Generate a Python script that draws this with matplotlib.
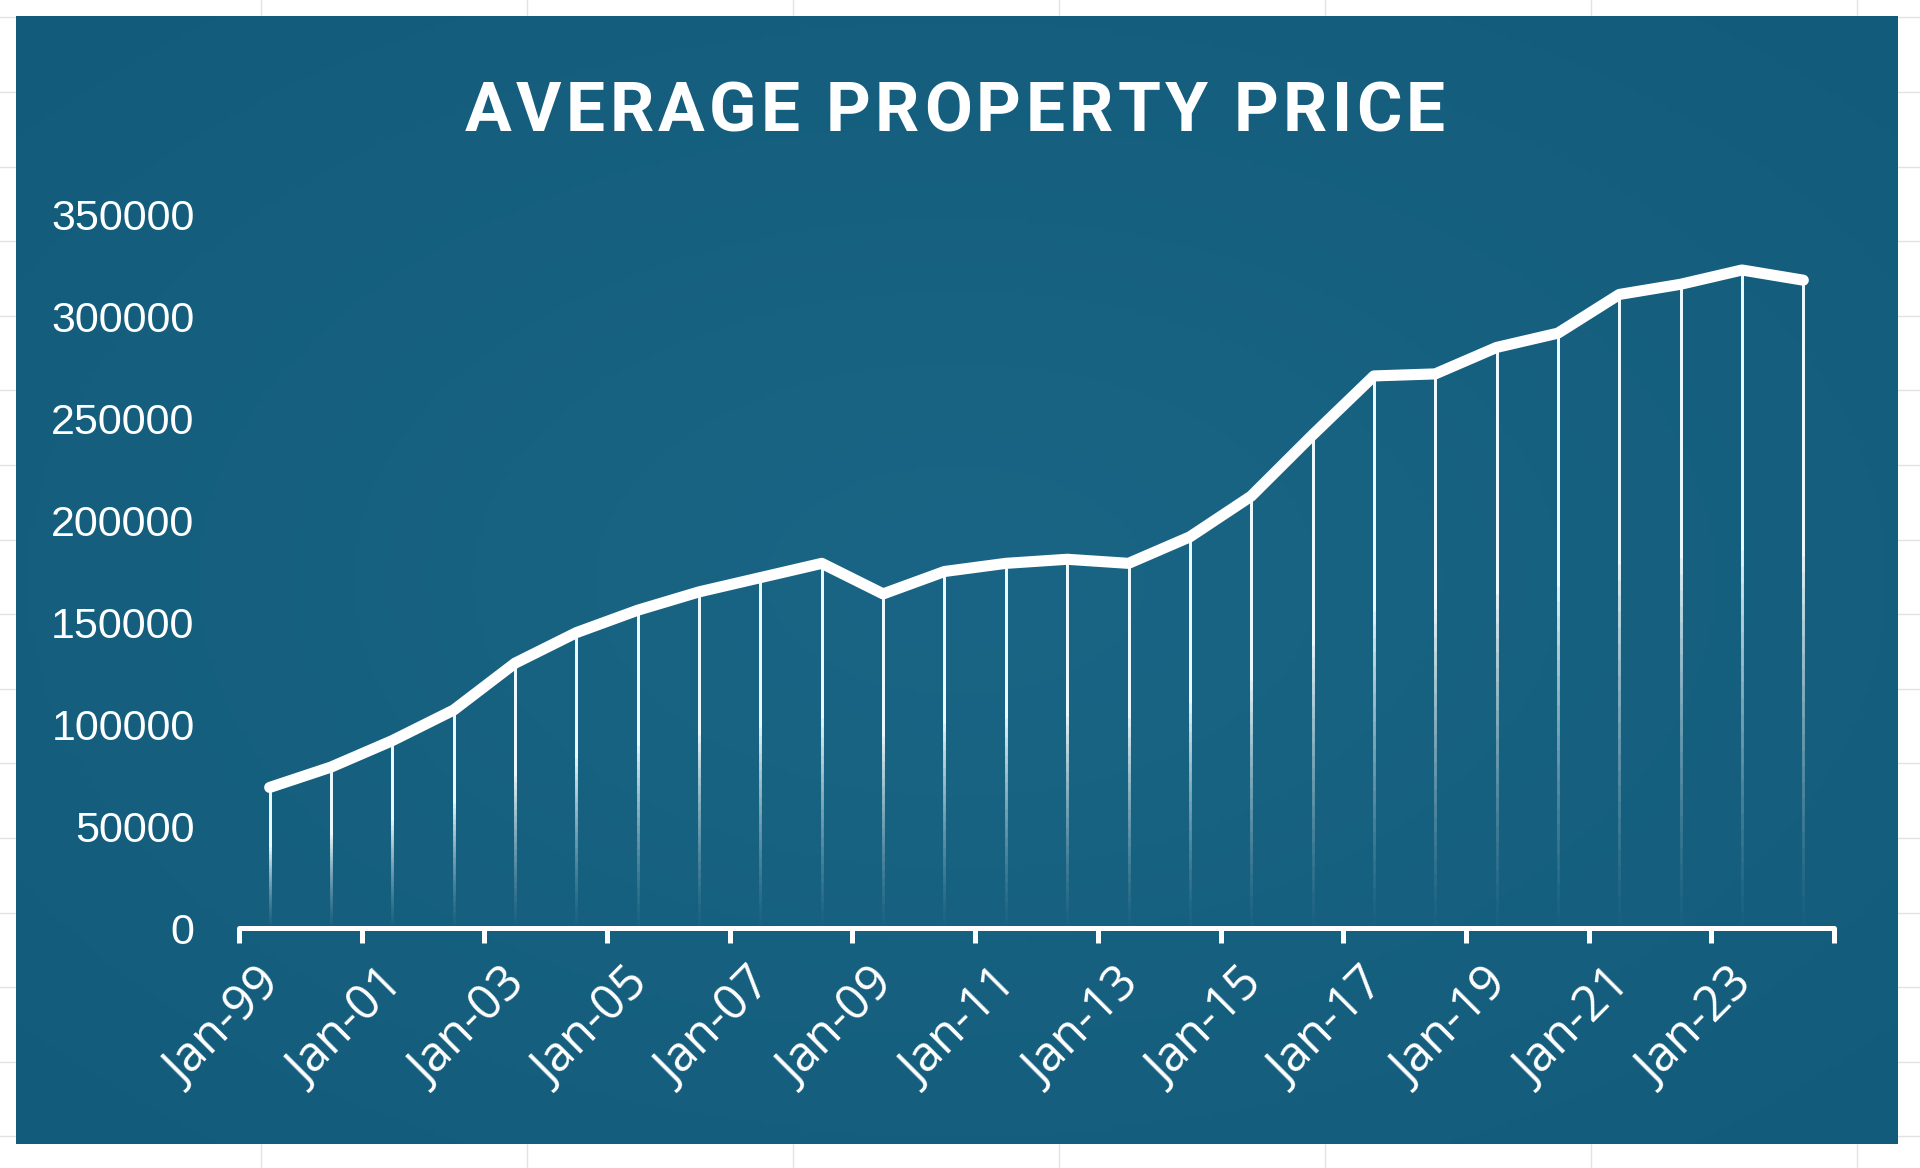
import numpy as np
import matplotlib
matplotlib.use("Agg")
import matplotlib.pyplot as plt
import matplotlib.transforms as mtransforms
from matplotlib.collections import LineCollection
from matplotlib.lines import Line2D

# data (one value per year, Jan-99 .. Jan-24)
years = list(range(1999, 2025))
prices = [69000, 79000, 92000, 107000, 130000, 145000, 156000, 165000, 172000, 179000,
          164000, 175000, 179000, 181000, 179000, 192000, 212000, 242000, 271000, 272000,
          285000, 292000, 311000, 316000, 323000, 318000]
tick_labels = ["Jan-%02d" % (y % 100) for y in years[::2]]
y_ticks = list(range(0, 350001, 50000))
title = "AVERAGE PROPERTY PRICE"

W, H = 1920, 1168
fig = plt.figure(figsize=(W / 100, H / 100), dpi=100, facecolor="white")

# faint spreadsheet grid behind the chart box
for gx in np.arange(261, W, 266):
    fig.add_artist(Line2D([gx / W] * 2, [0, 1], color="#e2e2e2", lw=1.0, zorder=0))
for gy in np.arange(17.4, H, 74.6):
    fig.add_artist(Line2D([0, 1], [1 - gy / H] * 2, color="#e2e2e2", lw=1.0, zorder=0))

# blue chart box with a soft vignette
bg = fig.add_axes([16 / W, 1 - 1144 / H, 1882 / W, 1128 / H], zorder=1)
gx, gy = np.meshgrid(np.linspace(-1, 1, 400), np.linspace(-1, 1, 250))
r = np.clip(np.sqrt(gx ** 2 + gy ** 2) / 1.414, 0, 1)
c_mid = np.array([26, 101, 133]) / 255
c_edge = np.array([19, 91, 122]) / 255
grad = c_mid[None, None, :] * (1 - r[..., None]) + c_edge[None, None, :] * r[..., None]
bg.imshow(grad, aspect="auto", extent=[0, 1, 0, 1])
bg.axis("off")

ax = fig.add_axes([239 / W, 1 - 928 / H, (1834 - 239) / W, (928 - 215) / H], zorder=2)
ax.patch.set_alpha(0)
x = np.arange(len(years))
ax.set_xlim(-0.5, len(years) - 0.5)
ax.set_ylim(0, 350000)

# drop lines fading toward the axis: stacked lines that all reach the point,
# each starting a bit higher, so the opacity builds up smoothly
n = 24
fr = np.linspace(0, 1, n + 1)
opac = fr ** 1.3
segs, cols = [], []
for k in range(n):
    a = (opac[k + 1] - opac[k]) / (1 - opac[k])
    for xi, p in zip(x, prices):
        segs.append([(xi, p * 0.6 * fr[k]), (xi, p)])
        cols.append((0.93, 0.98, 1.0, a))
ax.add_collection(LineCollection(segs, colors=cols, linewidths=2.0, capstyle="butt", zorder=3))

ax.plot(x, prices, color="white", lw=8, solid_capstyle="round",
        solid_joinstyle="round", zorder=4)

for s in ["top", "right", "left"]:
    ax.spines[s].set_visible(False)
ax.spines["bottom"].set_color("white")
ax.spines["bottom"].set_linewidth(3.6)
ax.spines["bottom"].set_capstyle("round")

ax.set_xticks(np.arange(-0.5, len(years), 2))
ax.set_xticklabels([])
ax.tick_params(axis="x", which="major", direction="out", length=11, width=3.6, color="white")
ax.set_xticks(x[::2], minor=True)
ax.set_xticklabels(tick_labels, minor=True, rotation=45, ha="right", va="top",
                   rotation_mode="anchor", fontsize=35, family="Open Sans", color="white")
ax.tick_params(axis="x", which="minor", length=0, pad=23)
shift = mtransforms.ScaledTranslation(-13 / 100, 0, fig.dpi_scale_trans)
for lab in ax.get_xticklabels(minor=True):
    lab.set_transform(lab.get_transform() + shift)

ax.set_yticks(y_ticks)
ax.set_yticklabels([str(v) for v in y_ticks], fontsize=31, family="Liberation Sans",
                   color="white")
ax.tick_params(axis="y", length=0, pad=32)

# title with letter spacing, placed glyph by glyph
t_size = 50
t_width = 980
t_base = 1 - 131 / H
renderer = fig.canvas.get_renderer()
prefix = []
for i in range(len(title) + 1):
    tmp = fig.text(0, 0, title[:i] + "|", fontsize=t_size, fontweight="bold", family="Roboto")
    bar = fig.text(0, 0, "|", fontsize=t_size, fontweight="bold", family="Roboto")
    prefix.append(tmp.get_window_extent(renderer).width - bar.get_window_extent(renderer).width)
    tmp.remove()
    bar.remove()
track = (t_width - prefix[-1]) / (len(title) - 1)
left = 955 - t_width / 2
for i, ch in enumerate(title):
    if ch == " ":
        continue
    fig.text((left + prefix[i] + i * track) / W, t_base, ch, ha="left", va="baseline",
             fontsize=t_size, fontweight="bold", family="Roboto", color="white")

fig.savefig("out.png", dpi=100)
